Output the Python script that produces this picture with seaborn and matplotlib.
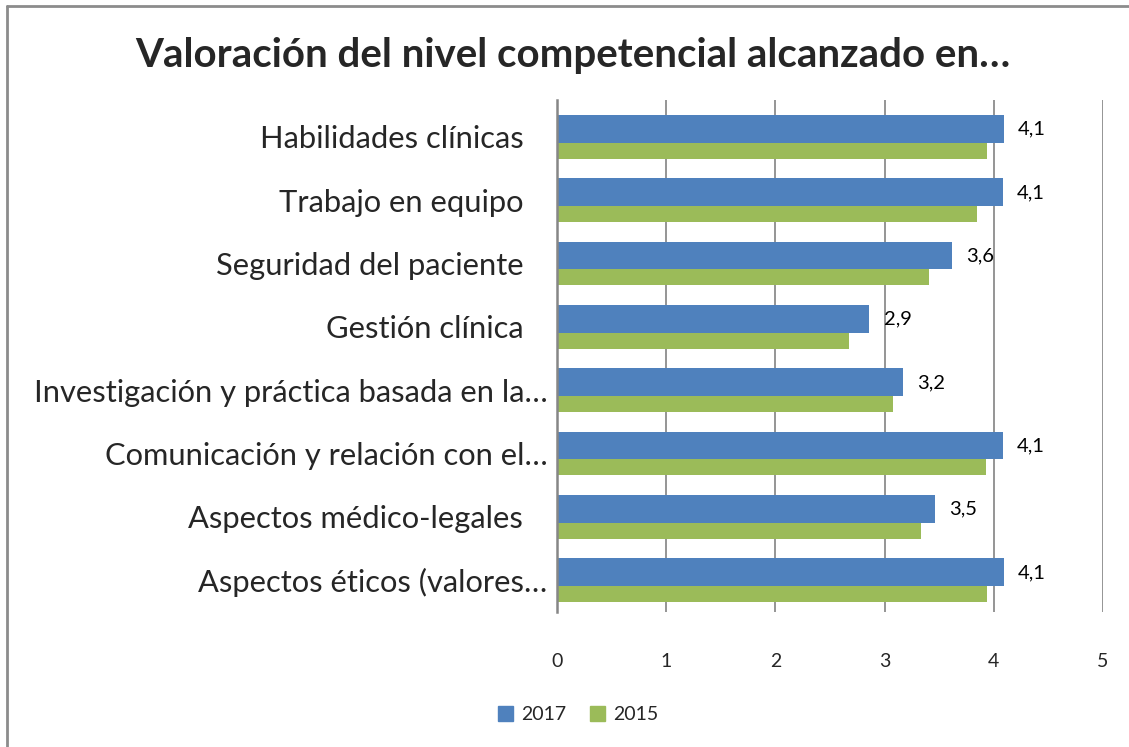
import pandas as pd
import matplotlib.pyplot as plt
import seaborn as sns
from matplotlib.lines import Line2D
from matplotlib.transforms import ScaledTranslation

# Data
categories = [
    "Habilidades clínicas",
    "Trabajo en equipo",
    "Seguridad del paciente",
    "Gestión clínica",
    "Investigación y práctica basada en la…",
    "Comunicación y relación con el…",
    "Aspectos médico-legales",
    "Aspectos éticos (valores…",
]
values_2017 = [4.09, 4.08, 3.62, 2.86, 3.17, 4.08, 3.46, 4.09]
values_2015 = [3.94, 3.85, 3.41, 2.67, 3.08, 3.93, 3.33, 3.94]
years = ["2017", "2015"]
colors = {"2017": "#4F81BD", "2015": "#9BBB59"}

df = pd.DataFrame({
    "category": categories * 2,
    "year": [years[0]] * len(categories) + [years[1]] * len(categories),
    "value": values_2017 + values_2015,
})

sns.set_style("white")
plt.rcParams["font.family"] = ["Lato", "DejaVu Sans"]

fig = plt.figure(figsize=(11.29, 7.47), dpi=100)
ax = fig.add_axes([0.4934, 0.181, 0.4836, 0.685])

sns.barplot(data=df, y="category", x="value", hue="year", palette=colors,
            width=0.69, saturation=1, orient="h", ax=ax, legend=False,
            linewidth=0, edgecolor="none")

# blue bars a bit taller and overlapping the green ones, like the original
n = len(categories)
for p in ax.patches[:n]:
    p.set_height(p.get_height() * 1.27)
    p.set_zorder(3)
for p in ax.patches[n:]:
    p.set_zorder(2)

# value labels on 2017 bars only
for i, v in enumerate(values_2017):
    ax.text(v + 0.13, i - 0.12, f"{v:.1f}".replace(".", ","),
            va="center", ha="left", fontsize=14.5, color="black", zorder=5)

ax.set_xlim(0, 5)
ax.set_ylim(n - 0.5 - 0.078, -0.5 - 0.078)
ax.set_xticks(range(6))
ax.grid(axis="x", color="#8C8C8C", linewidth=1.3)
ax.set_axisbelow(True)
for s in ["top", "right", "bottom"]:
    ax.spines[s].set_visible(False)
ax.spines["left"].set_color("#868686")
ax.spines["left"].set_linewidth(1.8)
ax.spines["left"].set_zorder(4)
ax.set_xlabel("")
ax.set_ylabel("")
ax.tick_params(axis="x", length=0, pad=30, labelsize=14)
ax.tick_params(axis="y", length=0, pad=7, labelsize=22.2)
ax.set_yticks(range(n))
ax.set_yticks([k + 0.5 for k in range(-1, n)], minor=True)
ax.tick_params(axis="y", which="minor", length=3, color="#868686", width=1.2)

# labels that are not truncated sit a little further left (as in the original)
shift = ScaledTranslation(-24 / 100, 0, fig.dpi_scale_trans)
for lbl in ax.get_yticklabels():
    if not lbl.get_text().endswith("…"):
        lbl.set_transform(lbl.get_transform() + shift)

fig.suptitle("Valoración del nivel competencial alcanzado en…", x=0.507, y=0.951,
             fontsize=29, fontweight="bold")

handles = [plt.Rectangle((0, 0), 1, 1, color=colors[y]) for y in years]
fig.legend(handles, years, loc="center", bbox_to_anchor=(0.512, 0.043), ncol=2,
           frameon=False, fontsize=14, handlelength=0.8, handleheight=0.8,
           columnspacing=1.2, handletextpad=0.4)

# chart frame (left and top edges visible)
fig.add_artist(Line2D([0.006, 0.006], [0, 0.992], transform=fig.transFigure,
                      color="#8C8C8C", linewidth=2))
fig.add_artist(Line2D([0.006, 1], [0.992, 0.992], transform=fig.transFigure,
                      color="#8C8C8C", linewidth=2))

fig.savefig("out.png", dpi=100)
